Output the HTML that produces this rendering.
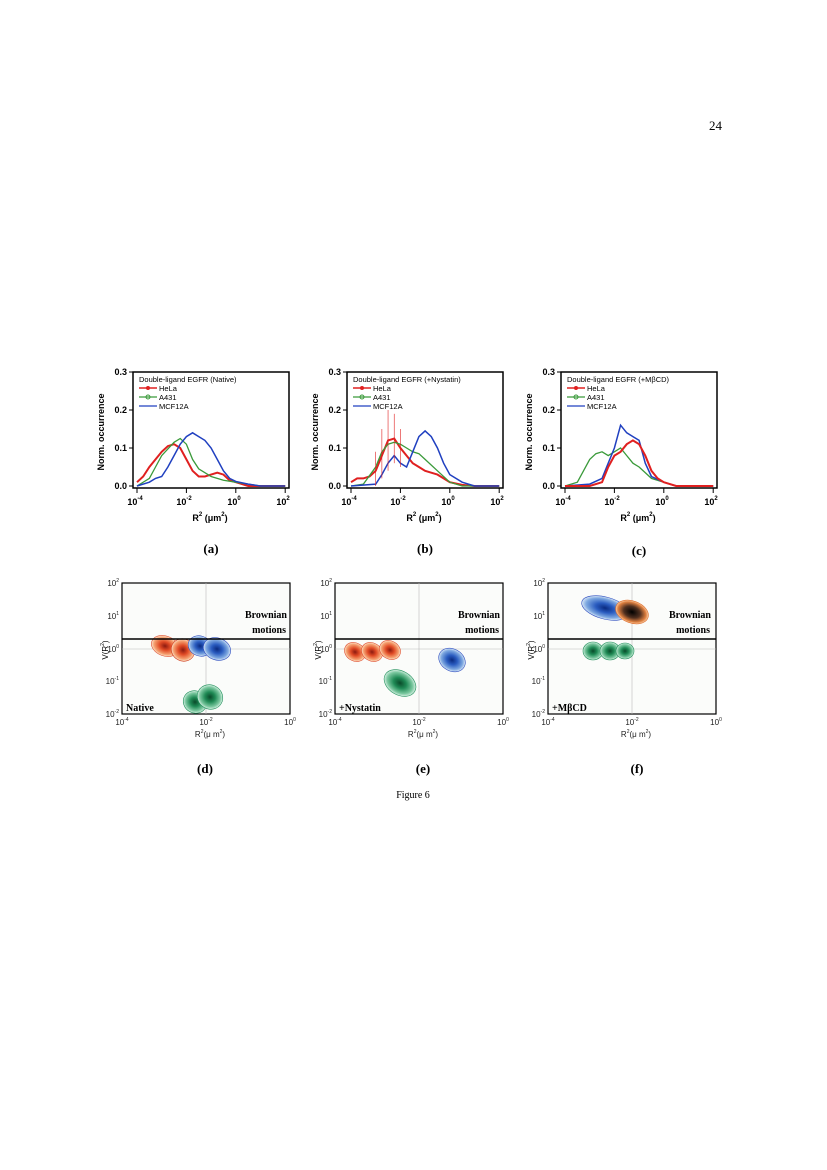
<!DOCTYPE html>
<html><head><meta charset="utf-8"><style>
html,body{margin:0;padding:0;background:#fff}
svg{display:block}
text{font-family:"Liberation Sans",sans-serif}
.s{font-family:"Liberation Serif",serif}
</style></head><body>
<svg width="827" height="1170" viewBox="0 0 827 1170" xmlns="http://www.w3.org/2000/svg">
<defs>
<radialGradient id="gr"><stop offset="0" stop-color="#8b1a10"/><stop offset="0.4" stop-color="#e04a25"/><stop offset="0.8" stop-color="#f5a070"/><stop offset="1" stop-color="#fbe0c8"/></radialGradient>
<radialGradient id="gb"><stop offset="0" stop-color="#0a2a80"/><stop offset="0.4" stop-color="#2a5cc0"/><stop offset="0.8" stop-color="#7ea8e0"/><stop offset="1" stop-color="#d8e6f6"/></radialGradient>
<radialGradient id="gg"><stop offset="0" stop-color="#0a4a2a"/><stop offset="0.4" stop-color="#1f8a55"/><stop offset="0.8" stop-color="#7cc8a0"/><stop offset="1" stop-color="#d8f0e4"/></radialGradient>
<radialGradient id="gk"><stop offset="0" stop-color="#000"/><stop offset="0.5" stop-color="#503020"/><stop offset="0.85" stop-color="#e08040"/><stop offset="1" stop-color="#f8d0a8"/></radialGradient>
<g id="topax">
<rect x="133" y="372" width="156" height="116" fill="none" stroke="#000" stroke-width="1.5"/>
<g stroke="#000" stroke-width="1">
<line x1="129" y1="486" x2="133" y2="486"/><line x1="129" y1="448" x2="133" y2="448"/><line x1="129" y1="410" x2="133" y2="410"/><line x1="129" y1="372" x2="133" y2="372"/>
<line x1="137" y1="488" x2="137" y2="493"/><line x1="186.4" y1="488" x2="186.4" y2="493"/><line x1="235.8" y1="488" x2="235.8" y2="493"/><line x1="285.2" y1="488" x2="285.2" y2="493"/>
</g>
<g font-size="9" font-weight="bold" text-anchor="end">
<text x="127" y="489">0.0</text><text x="127" y="451">0.1</text><text x="127" y="413">0.2</text><text x="127" y="375">0.3</text></g>
<g font-size="9" font-weight="bold" text-anchor="middle">
<text x="135" y="505">10<tspan font-size="6" dy="-5">-4</tspan></text>
<text x="184" y="505">10<tspan font-size="6" dy="-5">-2</tspan></text>
<text x="234" y="505">10<tspan font-size="6" dy="-5">0</tspan></text>
<text x="283" y="505">10<tspan font-size="6" dy="-5">2</tspan></text>
<text x="210" y="521">R<tspan font-size="6" dy="-5">2</tspan><tspan dy="5"> (μm</tspan><tspan font-size="6" dy="-5">2</tspan><tspan dy="5">)</tspan></text>
</g>
<text x="104" y="432" font-size="9" font-weight="bold" text-anchor="middle" transform="rotate(-90 104 432)">Norm. occurrence</text>
<g font-size="7.5">
<line x1="139" y1="388" x2="157" y2="388" stroke="#e02020" stroke-width="1.5"/><circle cx="148" cy="388" r="2" fill="#e02020"/>
<line x1="139" y1="397" x2="157" y2="397" stroke="#3a9a3a" stroke-width="1.2"/><circle cx="148" cy="397" r="2" fill="none" stroke="#3a9a3a"/>
<line x1="139" y1="406" x2="157" y2="406" stroke="#2040c0" stroke-width="1.2"/>
<text x="159" y="391">HeLa</text><text x="159" y="400">A431</text><text x="159" y="409">MCF12A</text>
</g>
</g>
</defs>

<text x="722" y="130" font-size="13" class="s" text-anchor="end">24</text>

<!-- panel a -->
<use href="#topax"/>
<text x="139" y="382" font-size="7.5">Double-ligand EGFR (Native)</text>
<g transform="translate(235.8,486) scale(24.7,-380)" fill="none">
<polyline vector-effect="non-scaling-stroke" stroke="#e02020" stroke-width="2" points="-4,0.01 -3.75,0.025 -3.5,0.05 -3.25,0.07 -3,0.09 -2.75,0.105 -2.5,0.11 -2.25,0.1 -2,0.07 -1.75,0.04 -1.5,0.025 -1.25,0.025 -1,0.03 -0.75,0.035 -0.5,0.03 -0.25,0.015 0,0.01 0.25,0.005 0.5,0 2,0"/>
<polyline vector-effect="non-scaling-stroke" stroke="#3a9a3a" stroke-width="1.3" points="-4,0 -3.5,0.02 -3.25,0.05 -3,0.08 -2.5,0.115 -2.25,0.125 -2,0.11 -1.75,0.07 -1.5,0.045 -1.25,0.035 -1,0.025 -0.5,0.015 0,0.01 0.5,0.005 1,0 2,0"/>
<polyline vector-effect="non-scaling-stroke" stroke="#2040c0" stroke-width="1.5" points="-4,0 -3.5,0.01 -3.25,0.02 -3,0.025 -2.75,0.05 -2.5,0.08 -2.25,0.11 -2,0.13 -1.75,0.14 -1.5,0.13 -1.25,0.12 -1,0.1 -0.75,0.07 -0.5,0.04 -0.25,0.02 0,0.012 0.5,0.005 1,0 2,0"/>
</g>
<text x="211" y="553" font-size="13" font-weight="bold" text-anchor="middle" class="s">(a)</text>

<!-- panel b -->
<use href="#topax" x="214"/>
<text x="353" y="382" font-size="7.5">Double-ligand EGFR (+Nystatin)</text>
<g transform="translate(449.8,486) scale(24.7,-380)" fill="none">
<polyline vector-effect="non-scaling-stroke" stroke="#e02020" stroke-width="2" points="-4,0.01 -3.75,0.02 -3.5,0.02 -3.25,0.025 -3,0.04 -2.75,0.08 -2.5,0.12 -2.25,0.125 -2,0.1 -1.75,0.08 -1.5,0.06 -1.25,0.05 -1,0.04 -0.75,0.035 -0.5,0.03 -0.25,0.02 0,0.01 0.5,0.003 1,0 2,0"/>
<polyline vector-effect="non-scaling-stroke" stroke="#3a9a3a" stroke-width="1.3" points="-4,0 -3.5,0.005 -3,0.05 -2.75,0.09 -2.5,0.11 -2.25,0.115 -2,0.11 -1.75,0.1 -1.5,0.09 -1.25,0.085 -1,0.07 -0.5,0.04 0,0.01 0.5,0 2,0"/>
<polyline vector-effect="non-scaling-stroke" stroke="#2040c0" stroke-width="1.5" points="-4,0 -3,0.005 -2.75,0.03 -2.5,0.06 -2.25,0.08 -2,0.06 -1.75,0.05 -1.5,0.09 -1.25,0.13 -1,0.145 -0.75,0.13 -0.5,0.1 -0.25,0.06 0,0.03 0.5,0.01 1,0 2,0"/>
<g vector-effect="non-scaling-stroke" stroke="#e02020" stroke-width="0.6">
<polyline vector-effect="non-scaling-stroke" points="-3,0 -3,0.09"/><polyline vector-effect="non-scaling-stroke" points="-2.5,0.04 -2.5,0.2"/><polyline vector-effect="non-scaling-stroke" points="-2.25,0.06 -2.25,0.19"/><polyline vector-effect="non-scaling-stroke" points="-2,0.05 -2,0.15"/><polyline vector-effect="non-scaling-stroke" points="-2.75,0.02 -2.75,0.15"/></g>
</g>
<text x="425" y="553" font-size="13" font-weight="bold" text-anchor="middle" class="s">(b)</text>

<!-- panel c -->
<use href="#topax" x="428"/>
<text x="567" y="382" font-size="7.5">Double-ligand EGFR (+MβCD)</text>
<g transform="translate(663.8,486) scale(24.7,-380)" fill="none">
<polyline vector-effect="non-scaling-stroke" stroke="#3a9a3a" stroke-width="1.3" points="-4,0 -3.5,0.01 -3.25,0.04 -3,0.07 -2.75,0.085 -2.5,0.09 -2.25,0.08 -2,0.09 -1.75,0.1 -1.5,0.08 -1.25,0.06 -1,0.05 -0.5,0.02 0,0.01 0.5,0 2,0"/>
<polyline vector-effect="non-scaling-stroke" stroke="#2040c0" stroke-width="1.5" points="-4,0 -3,0.005 -2.5,0.02 -2.25,0.06 -2,0.1 -1.75,0.16 -1.5,0.14 -1.25,0.13 -1,0.12 -0.75,0.06 -0.5,0.025 0,0.01 0.5,0 2,0"/>
<polyline vector-effect="non-scaling-stroke" stroke="#e02020" stroke-width="2" points="-4,0 -3,0 -2.5,0.01 -2.25,0.05 -2,0.08 -1.75,0.09 -1.5,0.11 -1.25,0.12 -1,0.11 -0.75,0.08 -0.5,0.04 -0.25,0.02 0,0.01 0.5,0 2,0"/>
</g>
<text x="639" y="555" font-size="13" font-weight="bold" text-anchor="middle" class="s">(c)</text>

<!-- bottom panels -->
<g id="bd">
<rect x="122" y="583" width="168" height="131" fill="#fbfcfa" stroke="#000" stroke-width="1.2"/>
<line x1="206" y1="583" x2="206" y2="714" stroke="#bbb" stroke-width="0.6"/>
<line x1="122" y1="649" x2="290" y2="649" stroke="#bbb" stroke-width="0.6"/>
<g font-size="8" text-anchor="end" fill="#222">
<text x="119" y="586">10<tspan font-size="5" dy="-4">2</tspan></text>
<text x="119" y="619">10<tspan font-size="5" dy="-4">1</tspan></text>
<text x="119" y="652">10<tspan font-size="5" dy="-4">0</tspan></text>
<text x="119" y="684">10<tspan font-size="5" dy="-4">-1</tspan></text>
<text x="119" y="717">10<tspan font-size="5" dy="-4">-2</tspan></text></g>
<g font-size="8" text-anchor="middle" fill="#222">
<text x="122" y="725">10<tspan font-size="5" dy="-4">-4</tspan></text>
<text x="206" y="725">10<tspan font-size="5" dy="-4">-2</tspan></text>
<text x="290" y="725">10<tspan font-size="5" dy="-4">0</tspan></text>
<text x="210" y="737" font-size="8">R<tspan font-size="5" dy="-4">2</tspan><tspan dy="4">(μ m</tspan><tspan font-size="5" dy="-4">2</tspan><tspan dy="4">)</tspan></text></g>
<text x="108" y="650" font-size="8" text-anchor="middle" transform="rotate(-90 108 650)">V(R<tspan font-size="5" dy="-4">2</tspan><tspan dy="4">)</tspan></text>
</g>
<use href="#bd" x="213"/>
<use href="#bd" x="426"/>

<!-- d blobs -->
<g stroke-width="0.6">
<ellipse cx="165" cy="646" rx="14" ry="10" fill="url(#gr)" stroke="#e05030" transform="rotate(20 165 646)"/>
<ellipse cx="183" cy="650" rx="12" ry="11" fill="url(#gr)" stroke="#d04020" transform="rotate(30 183 650)"/>
<ellipse cx="200" cy="646" rx="12" ry="10" fill="url(#gb)" stroke="#3050c0" transform="rotate(20 200 646)"/>
<ellipse cx="217" cy="649" rx="14" ry="11" fill="url(#gb)" stroke="#3050c0" transform="rotate(20 217 649)"/>
<ellipse cx="195" cy="702" rx="12" ry="11" fill="url(#gg)" stroke="#20905a" transform="rotate(30 195 702)"/>
<ellipse cx="210" cy="697" rx="13" ry="12" fill="url(#gg)" stroke="#20905a" transform="rotate(30 210 697)"/>
</g>
<line x1="122" y1="639" x2="290" y2="639" stroke="#000" stroke-width="1.5"/>
<g class="s" font-weight="bold" font-size="10" text-anchor="end" font-family="Liberation Serif,serif">
<text x="287" y="618" class="s">Brownian</text><text x="286" y="633" class="s">motions</text>
<text x="126" y="711" text-anchor="start" class="s">Native</text>
<text x="500" y="618" class="s">Brownian</text><text x="499" y="633" class="s">motions</text>
<text x="339" y="711" text-anchor="start" class="s">+Nystatin</text>
<text x="711" y="618" class="s">Brownian</text><text x="710" y="633" class="s">motions</text>
<text x="552" y="711" text-anchor="start" class="s">+MβCD</text>
</g>

<!-- e blobs -->
<g stroke-width="0.6">
<ellipse cx="355" cy="652" rx="11" ry="9" fill="url(#gr)" stroke="#e05030" transform="rotate(30 355 652)"/>
<ellipse cx="372" cy="652" rx="11" ry="9" fill="url(#gr)" stroke="#e05030" transform="rotate(30 372 652)"/>
<ellipse cx="390" cy="650" rx="11" ry="9" fill="url(#gr)" stroke="#e05030" transform="rotate(30 390 650)"/>
<ellipse cx="400" cy="683" rx="17" ry="12" fill="url(#gg)" stroke="#20905a" transform="rotate(30 400 683)"/>
<ellipse cx="452" cy="660" rx="14" ry="11" fill="url(#gb)" stroke="#3050c0" transform="rotate(30 452 660)"/>
</g>
<line x1="335" y1="639" x2="503" y2="639" stroke="#000" stroke-width="1.5"/>

<!-- f blobs -->
<g stroke-width="0.6">
<ellipse cx="605" cy="608" rx="24" ry="11" fill="url(#gb)" stroke="#3050c0" transform="rotate(15 605 608)"/>
<ellipse cx="632" cy="612" rx="17" ry="11" fill="url(#gk)" stroke="#e07030" transform="rotate(20 632 612)"/>
<ellipse cx="593" cy="651" rx="10" ry="9" fill="url(#gg)" stroke="#20905a"/>
<ellipse cx="610" cy="651" rx="10" ry="9" fill="url(#gg)" stroke="#20905a"/>
<ellipse cx="625" cy="651" rx="9" ry="8" fill="url(#gg)" stroke="#20905a"/>
</g>
<line x1="548" y1="639" x2="716" y2="639" stroke="#000" stroke-width="1.5"/>

<g font-size="13" font-weight="bold" text-anchor="middle" font-family="Liberation Serif,serif">
<text x="205" y="773" class="s">(d)</text><text x="423" y="773" class="s">(e)</text><text x="637" y="773" class="s">(f)</text></g>
<text x="413" y="798" font-size="10" text-anchor="middle" class="s">Figure 6</text>
</svg>
</body></html>
